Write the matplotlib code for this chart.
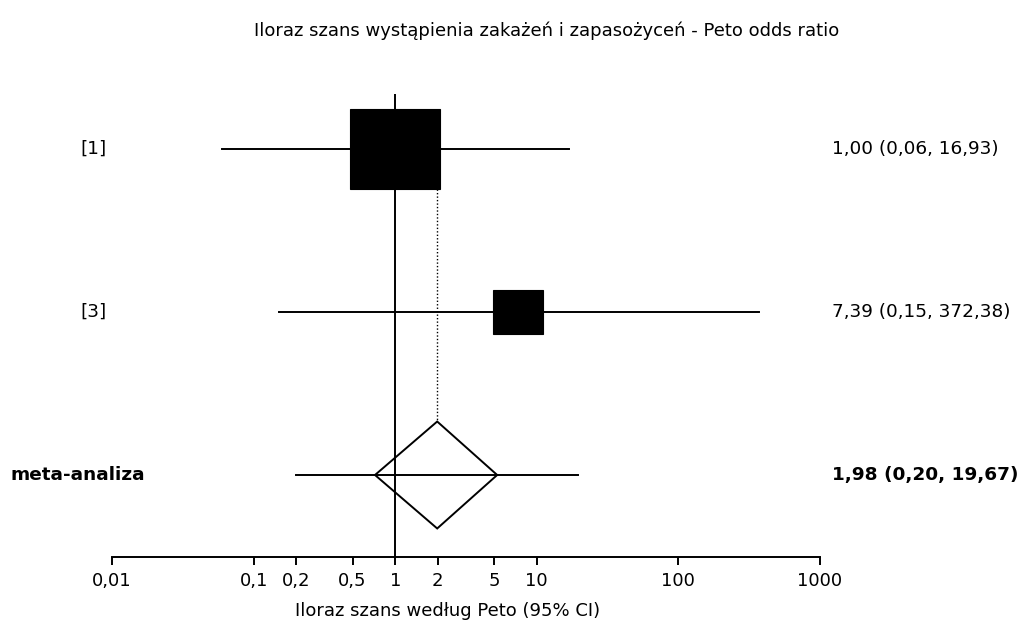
import matplotlib
matplotlib.use("Agg")
import matplotlib.pyplot as plt
from matplotlib.patches import Rectangle, Polygon
import numpy as np

plt.rcParams['font.family'] = ['DejaVu Sans']

# Study data (Peto odds ratios with 95% CI)
studies = ["[1]", "[3]"]
odds_ratio = [1.00, 7.39]
ci_low = [0.06, 0.15]
ci_high = [16.93, 372.38]
weights = [76.2, 23.8]          # relative study weights (%)

# Pooled estimate
pooled_label = "meta-analiza"
pooled_or = 1.98
pooled_low = 0.20
pooled_high = 19.67
diamond_low = 0.72
diamond_high = 5.25

tick_values = [0.01, 0.1, 0.2, 0.5, 1, 2, 5, 10, 100, 1000]
tick_labels = ["0,01", "0,1", "0,2", "0,5", "1", "2", "5", "10", "100", "1000"]

title = "Iloraz szans wystąpienia zakażeń i zapasożyceń - Peto odds ratio"
xlabel = "Iloraz szans według Peto (95% CI)"


def fmt(v):
    return f"{v:.2f}".replace(".", ",")


W, H = 1025, 620
fig = plt.figure(figsize=(W / 100, H / 100), dpi=100)
ax = fig.add_axes([112 / W, (H - 557) / H, 708 / W, 463 / H])
ax.set_xscale("log")
ax.set_xlim(0.01, 1000)
ax.set_ylim(0.497, 3.337)

lw = 1.4
rows = [3, 2]
row_meta = 1

# reference line at OR = 1
ax.axvline(1, color="black", lw=lw, zorder=1)

# box size scales with sqrt(weight)
ref = np.sqrt(weights[0])
for y, orv, lo, hi, w in zip(rows, odds_ratio, ci_low, ci_high, weights):
    ax.plot([lo, hi], [y, y], color="black", lw=lw, zorder=2)
    s = np.sqrt(w) / ref
    half_dec = 0.316 * s
    half_h = 0.2455 * s
    left = orv / 10 ** half_dec
    right = orv * 10 ** half_dec
    ax.add_patch(Rectangle((left, y - half_h), right - left, 2 * half_h,
                           facecolor="black", edgecolor="black", lw=0.8, zorder=3))

# pooled estimate
ax.plot([pooled_low, pooled_high], [row_meta, row_meta], color="black", lw=lw, zorder=2)
dh = 0.328
ax.add_patch(Polygon([(diamond_low, row_meta), (pooled_or, row_meta + dh),
                      (diamond_high, row_meta), (pooled_or, row_meta - dh)],
                     closed=True, facecolor="none", edgecolor="black", lw=lw, zorder=3))

# dotted line at pooled estimate
top_box_half = 0.2455
ax.plot([pooled_or, pooled_or], [rows[0] - top_box_half, row_meta + dh],
        color="black", lw=1.0, ls=(0, (1, 1.5)), zorder=2)

# axes styling
for side in ["top", "left", "right"]:
    ax.spines[side].set_visible(False)
ax.spines["bottom"].set_linewidth(lw)
ax.set_yticks([])
ax.set_xticks(tick_values)
ax.set_xticklabels(tick_labels)
ax.xaxis.set_minor_locator(matplotlib.ticker.NullLocator())
ax.tick_params(axis="x", direction="out", length=6, width=lw, labelsize=13, pad=4.5)

# labels
fs = 13
fs_row = 13.3
for y, name, orv, lo, hi in zip(rows, studies, odds_ratio, ci_low, ci_high):
    yf = ax.transData.transform((1, y))[1] / H
    fig.text(80 / W, yf, name, ha="left", va="center", fontsize=fs_row)
    fig.text(832 / W, yf, f"{fmt(orv)} ({fmt(lo)}, {fmt(hi)})",
             ha="left", va="center", fontsize=fs_row)
yf = ax.transData.transform((1, row_meta))[1] / H
fig.text(10 / W, yf, pooled_label, ha="left", va="center", fontsize=fs_row, fontweight="bold")
fig.text(832 / W, yf, f"{fmt(pooled_or)} ({fmt(pooled_low)}, {fmt(pooled_high)})",
         ha="left", va="center", fontsize=fs_row, fontweight="bold")

fig.text(547 / W, 1 - 31 / H, title, ha="center", va="center", fontsize=fs)
fig.text(448 / W, 1 - 611 / H, xlabel, ha="center", va="center", fontsize=fs)

fig.savefig("out.png", dpi=100)
